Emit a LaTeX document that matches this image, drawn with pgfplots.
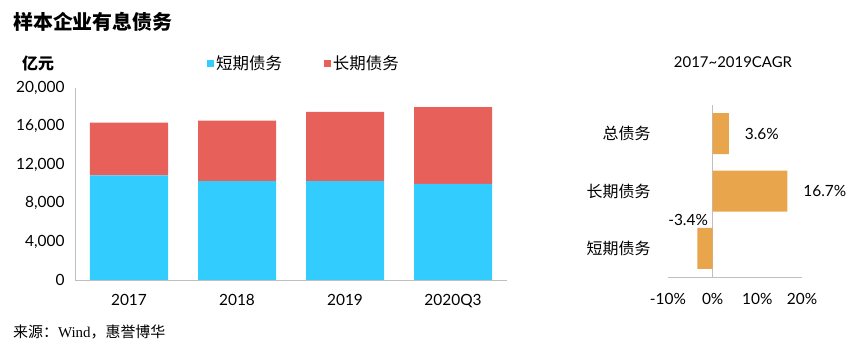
\documentclass[border=0pt]{standalone}
\usepackage{fontspec}
\usepackage{pgfplots}
\pgfplotsset{compat=1.18}
\setmainfont{Lato}
\newfontfamily\cjk{Noto Sans CJK SC}
\newfontfamily\serifw{Liberation Serif}
\definecolor{sblue}{HTML}{33CCFF}
\definecolor{lred}{HTML}{E8605A}
\definecolor{corange}{HTML}{E8A54B}
\definecolor{axgray}{HTML}{BFBFBF}
\begin{document}
\begin{tikzpicture}
\path[use as bounding box] (0,0) rectangle (868bp,352bp);
\node[anchor=west,inner sep=0pt,font=\cjk\bfseries\fontsize{20}{24}\selectfont] at (13bp,330bp) {样本企业有息债务};
\node[inner sep=0pt,font=\cjk\bfseries\fontsize{16}{18}\selectfont] at (38bp,289bp) {亿元};
\node[anchor=west,inner sep=0pt,font=\fontsize{15}{18}\selectfont] at (13bp,20bp) {{\cjk 来源：}{\serifw Wind}{\cjk ，惠誉博华}};
\node[inner sep=0pt,font=\fontsize{15}{18}\selectfont] at (733bp,290bp) {2017\textasciitilde 2019CAGR};

\begin{axis}[
  at={(75bp,72bp)}, anchor=south west, scale only axis,
  width=432bp, height=192bp,
  ybar stacked, bar width=78bp,
  xmin=-0.5, xmax=3.5, ymin=0, ymax=20000,
  ytick={0,4000,8000,12000,16000,20000},
  xtick={0,1,2,3}, xticklabels={2017,2018,2019,2020Q3},
  scaled y ticks=false,
  /pgf/number format/1000 sep={,},
  /pgf/number format/assume math mode=true,
  axis x line*=bottom, axis y line*=left,
  axis line style={axgray, line width=0.8pt},
  major tick length=0pt,
  tick label style={font=\fontsize{15.5}{18}\selectfont, black},
  yticklabel style={xshift=-7bp},
  xticklabel style={yshift=-11bp},
  legend style={at={(0.53,1.13)}, anchor=center, draw=none, fill=none,
    legend columns=2, font=\cjk\fontsize{16.5}{18}\selectfont,
    /tikz/every even column/.append style={column sep=40bp}},
  legend image code/.code={\fill[#1] (0bp,-3.5bp) rectangle (7bp,3.5bp);},
]
\addplot[fill=sblue, draw=none] coordinates {(0,10900) (1,10300) (2,10300) (3,10000)};
\addplot[fill=lred, draw=none] coordinates {(0,5500) (1,6300) (2,7200) (3,8000)};
\legend{短期债务,长期债务}
\end{axis}

\begin{axis}[
  at={(668bp,75bp)}, anchor=south west, scale only axis,
  width=134bp, height=172bp,
  xbar, bar width=41bp, clip=false,
  xmin=-10, xmax=20, ymin=-0.5, ymax=2.5,
  ytick={0,1,2}, yticklabels={短期债务,长期债务,总债务},
  xtick={-10,0,10,20},
  xticklabel={\pgfmathprintnumber{\tick}\%},
  /pgf/number format/assume math mode=true,
  axis x line*=bottom, axis y line*=left,
  x axis line style={axgray, line width=0.8pt},
  y axis line style={draw=none},
  major tick length=0pt,
  tick label style={font=\fontsize{15.5}{18}\selectfont, black},
  yticklabel style={font=\cjk\fontsize{16}{18}\selectfont, xshift=-14bp},
  xticklabel style={yshift=-13bp},
]
\draw[axgray, line width=0.8pt] (axis cs:0,-0.5) -- (axis cs:0,2.5);
\addplot[fill=corange, draw=none] coordinates {(-3.4,0) (16.7,1) (3.6,2)};
\node[font=\fontsize{15.5}{18}\selectfont] at (axis cs:11,2) {3.6\%};
\node[font=\fontsize{15.5}{18}\selectfont] at (axis cs:25.1,1) {16.7\%};
\node[font=\fontsize{15.5}{18}\selectfont] at (axis cs:-5.5,0.5) {-3.4\%};
\end{axis}
\end{tikzpicture}
\end{document}
